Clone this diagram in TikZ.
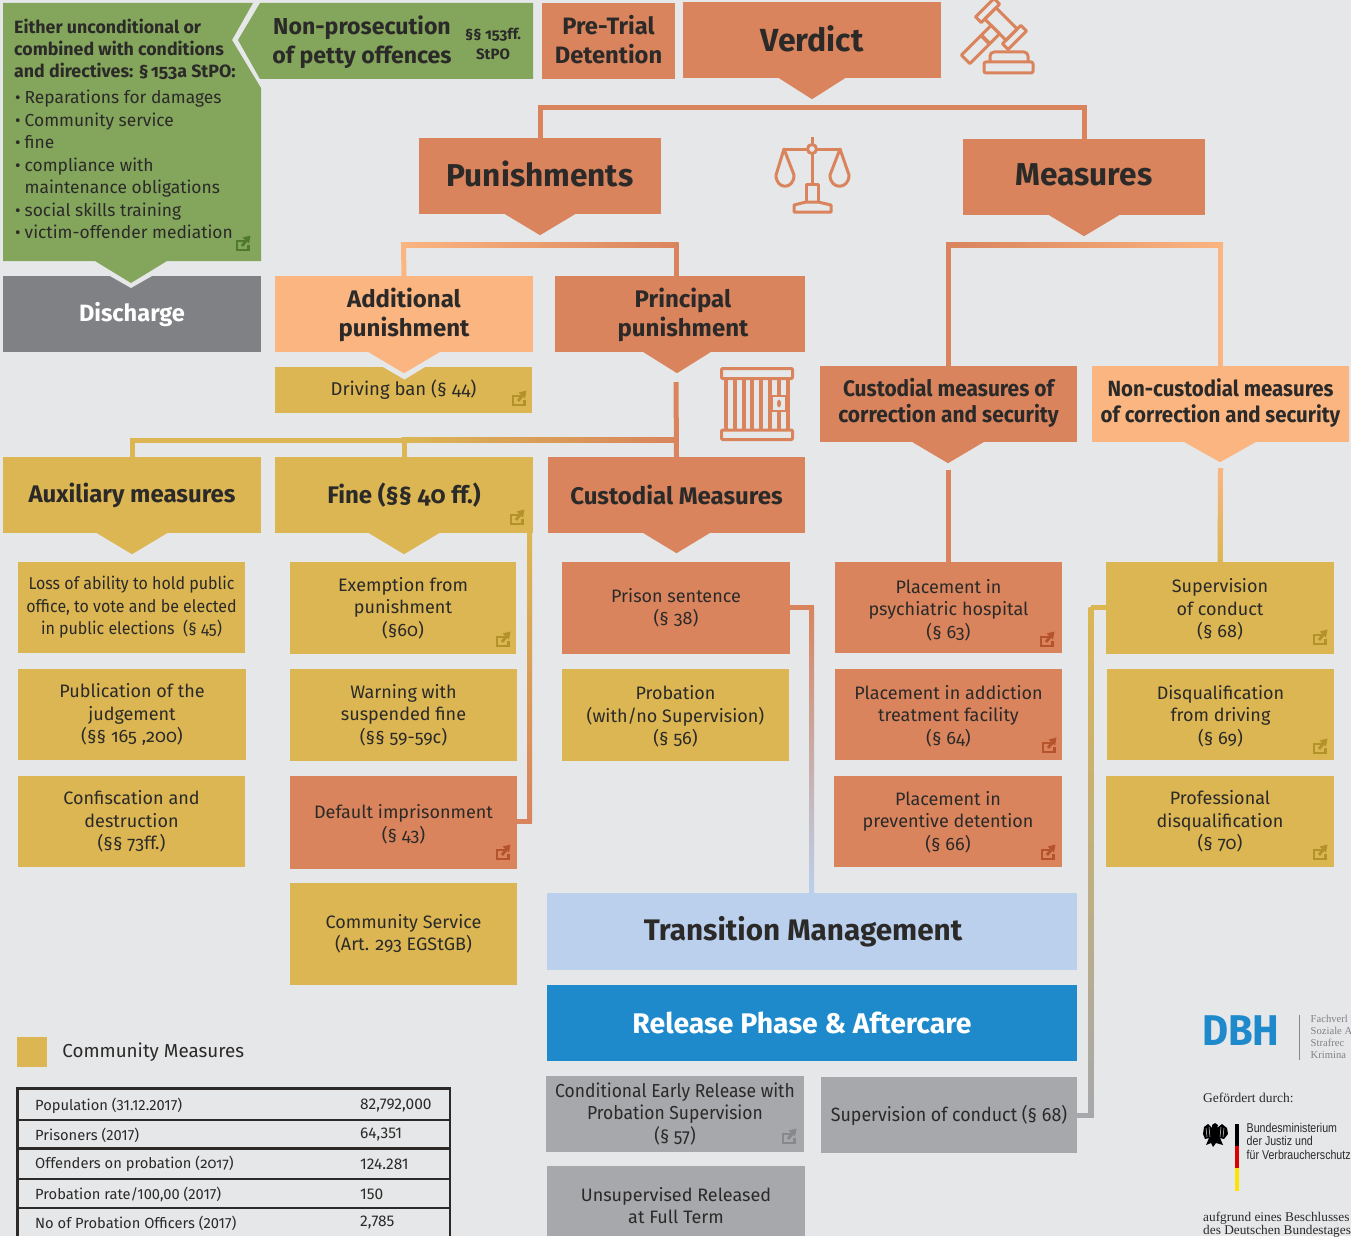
\documentclass[tikz,border=0pt]{standalone}
\usepackage{fontspec}
\usetikzlibrary{positioning}
\setmainfont[Numbers=OldStyle]{Fira Sans}
\newfontfamily\narrowfont[Numbers=OldStyle,FakeStretch=0.93]{Fira Sans}
\newfontfamily\tablefont[Numbers=Lining]{Fira Sans}
\newfontfamily\slabfont{Liberation Serif}
\newfontfamily\bmjvfont[FakeStretch=0.83]{Liberation Sans}

\definecolor{paper}{HTML}{E6E7E9}
\definecolor{clay}{HTML}{D9845D}
\definecolor{claydark}{HTML}{B5542C}
\definecolor{peach}{HTML}{FBB581}
\definecolor{ochre}{HTML}{DBB653}
\definecolor{ochredark}{HTML}{B3922A}
\definecolor{moss}{HTML}{84A55C}
\definecolor{mossdark}{HTML}{4F7A2A}
\definecolor{slate}{HTML}{808184}
\definecolor{ash}{HTML}{A7A8AB}
\definecolor{ashdark}{HTML}{87888B}
\definecolor{skyl}{HTML}{BBD0EC}
\definecolor{azure}{HTML}{1E8ACB}
\definecolor{ink}{HTML}{2B2A29}

\tikzset{
  box/.style={rectangle,inner sep=0pt,align=center,text=ink},
  head/.style={box,minimum width=258,minimum height=76,font=\fontsize{24}{29}\selectfont\bfseries},
  bighead/.style={head,minimum width=242,font=\fontsize{31.6}{36}\selectfont\bfseries},
  subhead/.style={head,font=\narrowfont\fontsize{22.5}{26}\selectfont\bfseries},
  leaf/.style={box,minimum width=227,minimum height=91,font=\fontsize{18}{22.5}\selectfont},
  link/.style={line width=5pt,line join=miter},
  icon/.style={draw=clay,line width=3pt,line join=round},
  pics/extlink/.style={code={
    \draw[#1,line width=2.2pt] (5.5,-2) -- (-6,-2) -- (-6,7) -- (5.5,7) -- (5.5,2);
    \draw[#1,line width=2.8pt] (-1,3) -- (3,-2);
    \fill[#1] (-0.5,-5.5) -- (7.5,-7.5) -- (6,0.5) -- cycle;
  }}
}

% tip under a box: node, colour, half width, depth, shift
\newcommand{\droptip}[5][0pt]{\fill[#3] ([xshift=#1-#4]#2.south) -- ([xshift=#1,yshift=-#5]#2.south) -- ([xshift=#1+#4]#2.south) -- cycle;}
\newcommand{\hgrad}[4]{\shade[left color=#3,right color=#4] ([shift={(-2.5pt,2.5pt)}]#1) rectangle ([shift={(2.5pt,-2.5pt)}]#2);}
\newcommand{\vgrad}[4]{\shade[top color=#3,bottom color=#4] ([xshift=-2.5pt]#1) rectangle ([xshift=2.5pt]#2);}
\newcommand{\bul}{\makebox[9.5pt][l]{\fontsize{17}{17}\selectfont\textbullet}}
% first line taller, last line deeper: pushes the text down or up in its box
\newcommand{\dn}[1]{\rule{0pt}{#1pt}}
\newcommand{\up}[1]{\rule[-#1pt]{0pt}{1pt}}

\begin{document}
\begin{tikzpicture}[x=1pt,y=-1pt]
\useasboundingbox (0,0) rectangle (1351,1236);
\fill[paper] (0,0) rectangle (1351,1236);

% top row
\node[box,fill=slate,minimum width=258,minimum height=76,text=white,font=\fontsize{23.6}{28}\selectfont\bfseries] (discharge) at (132,314) {\dn{21}Discharge};
\fill[paper] (110,276) -- (131,288) -- (152,276) -- cycle;
\fill[moss] (3,3) -- (253,3) -- (232,40) -- (261,88) -- (261,261) -- (167,261) -- (131,283) -- (95,261) -- (3,261) -- cycle;
\fill[moss] (260,3) -- (533,3) -- (533,79) -- (260,79) -- (238,40) -- cycle;
\node[box,anchor=north west,align=left,font=\fontsize{17.8}{22}\selectfont\bfseries] (either) at (14,19) {Either unconditional or\\combined with conditions\\and directives: §\hspace{2pt}153a StPO:};
\node[box,anchor=north west,align=left,font=\fontsize{17.4}{22.5}\selectfont] (sanctions) at (15,90) {\bul Reparations for damages\\\bul Community service\\\bul fine\\\bul compliance with\\\hspace*{9.5pt}maintenance obligations\\\bul social skills training\\\bul victim-offender mediation};
\node[box,font=\fontsize{23.1}{29}\selectfont\bfseries] (nonpros) at (362,42) {Non-prosecution\\of petty offences};
\node[box,font=\fontsize{15}{20}\selectfont\bfseries] (stpo) at (493,44) {§§ 153ff.\\StPO};
\node[box,fill=clay,minimum width=133,minimum height=76,font=\fontsize{23.7}{29}\selectfont\bfseries] (pretrial) at (608.5,41) {Pre-Trial\\Detention\up{4}};
\node[head,fill=clay,font=\fontsize{32}{36}\selectfont\bfseries] (verdict) at (812,40) {Verdict\up{2}};
\droptip{verdict}{clay}{33pt}{21pt}

\node[bighead,fill=clay] (punish) at (540,176) {Punishments\up{4}};
\node[bighead,fill=clay] (measure) at (1084,177) {Measures\up{4}};
\droptip{punish}{clay}{35pt}{21pt}
\droptip{measure}{clay}{35pt}{21pt}

% second level
\node[box,fill=ochre,minimum width=257,minimum height=46,font=\fontsize{18.5}{22}\selectfont] (ban) at (403.5,390) {Driving ban (§ 44)};
\fill[paper] (383,367) -- (404.5,379.5) -- (425,367) -- cycle;
\node[head,fill=peach] (addit) at (404,314) {\dn{22}Additional\\punishment};
\droptip{addit}{peach}{35.5pt}{21pt}
\node[head,fill=clay,minimum width=250] (princ) at (680,314) {\dn{22}\hspace*{6pt}Principal\\\hspace*{6pt}punishment};
\droptip[-3pt]{princ}{clay}{33.5pt}{21pt}
\node[subhead,fill=clay,minimum width=257] (custsec) at (948.5,404) {Custodial measures of\\correction and security\up{7}};
\node[subhead,fill=peach,minimum width=257,font=\narrowfont\fontsize{22}{26}\selectfont\bfseries] (freesec) at (1220.5,404) {Non-custodial measures\\of correction and security\up{7}};
\droptip[-0.5pt]{custsec}{clay}{35.5pt}{21pt}
\droptip[-0.5pt]{freesec}{peach}{35.5pt}{20pt}

% third level
\node[head,fill=ochre] (aux) at (132,495) {\dn{21}Auxiliary measures};
\node[head,fill=ochre] (fine) at (404,495) {Fine (§§ 40 ff.)};
\node[head,fill=clay,minimum width=257] (custm) at (676.5,495) {Custodial Measures};
\droptip{aux}{ochre}{35pt}{21pt}
\droptip{fine}{ochre}{35pt}{21pt}
\droptip{custm}{clay}{33pt}{20pt}

% leaves
\node[leaf,fill=ochre,font=\narrowfont\fontsize{17.2}{22.5}\selectfont] (loss) at (131.5,607.5) {Loss of ability to hold public\\office, to vote and be elected\\in public elections\ \ (§ 45)};
\node[leaf,fill=ochre,minimum width=228] (publ) at (132,714.5) {Publication of the\\judgement\\(§§ 165 ,200)};
\node[leaf,fill=ochre] (conf) at (131.5,821.5) {Confiscation and\\destruction\\(§§ 73ff.)};
\node[leaf,fill=ochre,minimum width=226,minimum height=92] (exempt) at (403,608) {Exemption from\\punishment\\(§60)};
\node[leaf,fill=ochre,minimum height=92] (warn) at (403.5,715) {Warning with\\suspended fine\\(§§ 59-59c)};
\node[leaf,fill=clay,minimum height=93] (default) at (403.5,822.5) {\dn{17.4}Default imprisonment\\(§ 43)};
\node[leaf,fill=ochre,minimum height=102] (comm) at (403.5,934) {Community Service\\(Art. 293 EGStGB)};
\node[leaf,fill=clay,minimum width=228,minimum height=92] (prison) at (676,608) {Prison sentence\\(§ 38)};
\node[leaf,fill=ochre,minimum height=92] (probat) at (675.5,715) {\dn{17.4}Probation\\(with/no Supervision)\\(§ 56)};
\node[leaf,fill=clay] (psych) at (948.5,607.5) {\dn{19.4}Placement in\\psychiatric hospital\\(§ 63)};
\node[leaf,fill=clay] (addict) at (948.5,714.5) {\dn{17.4}Placement in addiction\\treatment facility\\(§ 64)};
\node[leaf,fill=clay,minimum width=228] (prevent) at (948,821.5) {\dn{15.4}Placement in\\preventive detention\\(§ 66)};
\node[leaf,fill=ochre,minimum width=228,minimum height=92] (superv) at (1220,608) {\dn{17.4}Supervision\\of conduct\\(§ 68)};
\node[leaf,fill=ochre] (disq) at (1220.5,714.5) {\dn{17.4}Disqualification\\from driving\\(§ 69)};
\node[leaf,fill=ochre,minimum width=228] (profess) at (1220,821.5) {Professional\\disqualification\\(§ 70)};

% release
\node[box,fill=skyl,minimum width=530,minimum height=77,font=\fontsize{29.7}{34}\selectfont\bfseries] (transit) at (812,931.5) {Transition Management\rule{18pt}{0pt}};
\node[box,fill=azure,minimum width=530,minimum height=76,text=white,font=\fontsize{28.4}{34}\selectfont\bfseries] (release) at (812,1023) {Release Phase \& Aftercare\rule{20pt}{0pt}};
\node[box,fill=ash,minimum width=258,minimum height=76,font=\narrowfont\fontsize{18.8}{22.5}\selectfont] (early) at (675,1114) {Conditional Early Release with\\Probation Supervision\\(§ 57)};
\node[box,fill=ash,minimum width=256,minimum height=76,font=\narrowfont\fontsize{19.2}{22.5}\selectfont] (condsup) at (949,1115) {Supervision of conduct (§ 68)};
\node[box,fill=ash,minimum width=258,minimum height=70,font=\fontsize{18}{22.5}\selectfont] (unsup) at (676,1201) {\dn{22.7}Unsupervised Released\\at Full Term};

% connectors
\coordinate (vbar) at (812,108);
\draw[link,clay] (punish.north) |- (vbar) -| (measure.north);

\coordinate (pleft) at (403.5,244.5);
\coordinate (pright) at (676,244.5);
\coordinate (princin) at (676,276);
\draw[link,peach] (addit.north) -- (pleft) -- (pright);
\draw[link,clay] (pright) -- (princin);
\hgrad{pleft}{pright}{peach}{clay}

\coordinate (mleft) at (948.5,245);
\coordinate (mright) at (1220.5,245);
\draw[link,clay] (custsec.north) -- (mleft) -- (mright);
\draw[link,peach] (mright) -- (freesec.north);
\hgrad{mleft}{mright}{clay}{peach}

\coordinate (princout) at (676,382);
\coordinate (yjoin) at (676,440);
\coordinate (yaux) at (132,440);
\coordinate (yfine) at (404,440);
\draw[link,clay] (princout) -- (custm.north);
\draw[link,ochre] (aux.north) -- (yaux) -- (yjoin);
\draw[link,ochre] (fine.north) -- (yfine);
\hgrad{yfine}{yjoin}{ochre}{clay}

\coordinate (custout) at (948.5,470);
\draw[link,clay] (custout) -- (psych.north);
\coordinate (freeout) at (1220.5,468);
\draw[link,ochre] (freeout) -- (superv.north);
\vgrad{freeout}{superv.north}{peach}{ochre}

\coordinate (finedown) at (529.5,533);
\coordinate (fineturn) at (529.5,821);
\draw[link,clay] (finedown) -- (fineturn) -- (fineturn -| default.east);
\vgrad{finedown}{fineturn}{ochre}{clay}

\coordinate (prisonturn) at (811.5,607);
\draw[link,clay] (prisonturn -| prison.east) -- (prisonturn) -- (prisonturn |- transit.north);
\vgrad{prisonturn}{prisonturn |- transit.north}{clay}{skyl}

\coordinate (condturn) at (1091,1115);
\coordinate (supturn) at (1091,607);
\draw[link,ash] (condsup.east) -- (condturn) -- (supturn);
\draw[link,ochre] (supturn) -- (supturn -| superv.west);
\vgrad{supturn}{condturn}{ochre}{ash}

% link marks
\foreach \px/\py/\mark in {243/243/mossdark,519/398/ochredark,517/517/ochredark,503/639/ochredark,503/852/claydark,1047/639/claydark,1049/745/claydark,1048/852/claydark,1320/637/ochredark,1320/746/ochredark,1320/852/ochredark,789/1136/ashdark}
  \pic at (\px,\py) {extlink=\mark};

% gavel
\begin{scope}[shift={(1001,24)},rotate=-45]
  \draw[icon] (-15,-8) rectangle (15,8);
  \draw[icon] (-23,-13) rectangle (-15,13);
  \draw[icon] (15,-13) rectangle (23,13);
  \draw[icon] (-6,8) rectangle (6,50);
  \draw[icon,line width=4pt] (-6,22) -- (6,22);
\end{scope}
\draw[icon,rounded corners=2pt] (984,62) rectangle (1033,73);
\draw[icon,rounded corners=4pt] (990,62) -- (990,52) -- (1028,52) -- (1028,62);

% scales
\draw[icon] (812,137) -- (812,144);
\draw[icon] (812,149) circle (4.5);
\draw[icon] (784,149) -- (807,149) (817,149) -- (840,149);
\draw[icon] (812,154) -- (812,184);
\draw[icon] (784,149) -- (776,175) .. controls (776,190) and (794,190) .. (794,175) -- cycle;
\draw[icon] (840,149) -- (830,175) .. controls (830,190) and (849,190) .. (849,175) -- cycle;
\draw[icon] (806,202) -- (806,184) -- (818,184) -- (818,202);
\draw[icon] (794,212) -- (794,205) -- (806,202) -- (818,202) -- (831,205) -- (831,212) -- cycle;

% jail door
\draw[icon,rounded corners=1pt] (721.5,368.5) rectangle (792.5,378.5);
\draw[icon,rounded corners=1pt] (721.5,430) rectangle (792.5,439.5);
\foreach \bx in {726,735,744,752,761,770,779,788}
  \draw[draw=clay,line width=4pt] (\bx,378.5) -- (\bx,430);
\draw[draw=clay,fill=paper,line width=2.8pt] (772,396) rectangle (786,411);
\fill[clay] (779,403.5) ellipse (2 and 4);

% legend
\node[box,fill=ochre,minimum size=30] (swatch) at (32,1052) {};
\node[box,font=\fontsize{18.8}{22}\selectfont,right=15pt of swatch] (swatchtext) {Community Measures};

% table
\draw[line width=2.6pt,ink] (17.5,1236) -- (17.5,1088.5) -- (450,1088.5) -- (450,1236);
\foreach \ly in {1120,1148.5,1179,1208}
  \draw[line width=2.4pt,ink] (17.5,\ly) -- (450,\ly);
\foreach \tn/\ty/\tlabel/\tval in {1/1106/{Population (31.12.2017)}/{82,792,000},2/1135/{Prisoners (2017)}/{64,351},3/1164/{Offenders on probation ({\rmfamily\fontsize{14.7}{18}\selectfont 2017})}/{124.281},4/1194/{Probation rate/100,00 (2017)}/{150},5/1223/{No of Probation Officers (2017)}/{2,785}}{
  \node[box,anchor=west,font=\tablefont\fontsize{14.7}{18}\selectfont] (row\tn) at (35,\ty) {\tlabel};
  \node[box,anchor=west,font=\tablefont\fontsize{15.5}{18}\selectfont] (val\tn) at (360,\ty) {\tval};
}

% funding block
\node[box,anchor=west,text=azure,font=\narrowfont\fontsize{43}{44}\selectfont\bfseries] (dbh) at (1202,1031) {DBH};
\draw[line width=0.8pt,ashdark] (1299,1015) -- (1299,1060);
\node[box,anchor=north west,align=left,text=slate,font=\slabfont\fontsize{10.6}{12}\selectfont] (fachv) at (1310.5,1015) {Fachverl\\Soziale A\\Strafrec\\Krimina};
\node[box,anchor=west,font=\slabfont\fontsize{13.5}{15}\selectfont] (gefoerdert) at (1203,1098) {Gefördert durch:};
\fill[black] (1215,1123) -- (1218,1125) -- (1217,1128) -- (1222,1124) -- (1227,1128) -- (1228,1134) -- (1224,1139) -- (1220,1138) -- (1223,1145) -- (1216,1143) -- (1213,1147) -- (1211,1143) -- (1206,1145) -- (1209,1138) -- (1205,1139) -- (1203,1134) -- (1204,1127) -- (1208,1124) -- (1212,1128) -- (1212,1125) -- cycle;
\draw[paper,line width=0.5pt] (1206,1128) -- (1207,1137) (1209,1127) -- (1210,1137) (1224,1128) -- (1223,1137) (1221,1127) -- (1220,1137);
\fill[black] (1235,1124) rectangle (1239,1146);
\fill[red!85!black] (1235,1146) rectangle (1239,1168);
\fill[yellow!85!orange] (1235,1168) rectangle (1239,1191);
\node[box,anchor=north west,align=left,font=\bmjvfont\fontsize{12.8}{13.5}\selectfont] (bmjv) at (1246.5,1123) {Bundesministerium\\der Justiz und\\für Verbraucherschutz};
\node[box,anchor=north west,align=left,font=\slabfont\fontsize{13.3}{12}\selectfont] (beschluss) at (1203,1212) {aufgrund eines Beschlusses\\des Deutschen Bundestages};
\end{tikzpicture}
\end{document}
